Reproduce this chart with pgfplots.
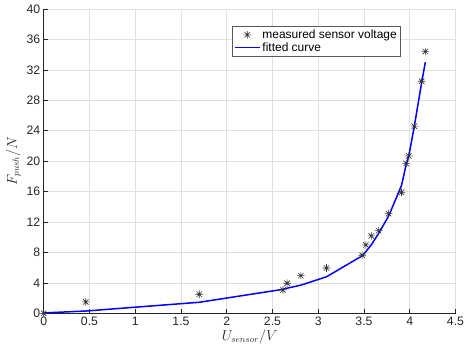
\documentclass[border=0pt]{standalone}
\usepackage{pgfplots}
\pgfplotsset{compat=1.18}
\usepackage{fontspec}
\setmainfont{Liberation Sans}
\definecolor{axgray}{gray}{0.15}
\definecolor{gridgray}{gray}{0.88}
\definecolor{legbox}{gray}{0.35}
\pgfdeclareplotmark{mstar}{%
  \pgfpathmoveto{\pgfqpoint{-\pgfplotmarksize}{0pt}}\pgfpathlineto{\pgfqpoint{\pgfplotmarksize}{0pt}}%
  \pgfpathmoveto{\pgfqpoint{0pt}{-\pgfplotmarksize}}\pgfpathlineto{\pgfqpoint{0pt}{\pgfplotmarksize}}%
  \pgfpathmoveto{\pgfqpoint{-0.7071\pgfplotmarksize}{-0.7071\pgfplotmarksize}}\pgfpathlineto{\pgfqpoint{0.7071\pgfplotmarksize}{0.7071\pgfplotmarksize}}%
  \pgfpathmoveto{\pgfqpoint{-0.7071\pgfplotmarksize}{0.7071\pgfplotmarksize}}\pgfpathlineto{\pgfqpoint{0.7071\pgfplotmarksize}{-0.7071\pgfplotmarksize}}%
  \pgfusepathqstroke}
\begin{document}
\begin{tikzpicture}
\begin{axis}[
  scale only axis,
  width=411.8bp, height=304.3bp,
  xmin=0, xmax=4.5, ymin=0, ymax=40,
  xtick={0,0.5,...,4.5}, ytick={0,4,...,40},
  xticklabels={0,0.5,1,1.5,2,2.5,3,3.5,4,4.5},
  axis x line*=bottom, axis y line*=left,
  axis line style={color=axgray, line width=0.5bp, -},
  tick style={color=axgray, line width=0.5bp},
  tick align=inside, major tick length=4bp,
  grid=major,
  major grid style={color=gridgray, line width=0.5bp},
  /pgf/number format/assume math mode=true,
  tick label style={font=\fontsize{12.3}{14}\selectfont, color=axgray},
  xticklabel style={yshift=-0.5bp},
  xlabel={$U_{sensor}/V$},
  ylabel={$F_{push}/N$},
  label style={font=\fontsize{13.5}{15}\selectfont, color=axgray},
  xlabel style={yshift=3bp},
  ylabel style={yshift=-1bp},
  legend cell align=left,
  legend style={at={(0.458,0.944)}, anchor=north west, draw=legbox,
    font=\fontsize{12}{13.5}\selectfont, inner sep=1.5bp, row sep=-1.5bp,
    /tikz/every even column/.append style={column sep=0bp}},
]
\addplot[only marks, mark=mstar, mark size=3.8bp, color=black!80, line width=0.6bp,
  legend image code/.code={\draw[black!80, line width=0.6bp] plot[only marks, mark=mstar, mark size=3.8bp] coordinates {(12.5bp,0bp)}; \path (0bp,0bp) (25bp,0bp);}] coordinates {
  (0,0) (0.46,1.5) (1.70,2.5) (2.615,3.07) (2.66,3.95) (2.81,4.95) (3.09,5.96)
  (3.48,7.63) (3.52,8.99) (3.58,10.17) (3.66,10.87) (3.77,13.1) (3.91,15.9)
  (3.96,19.7) (3.99,20.7) (4.05,24.6) (4.13,30.5) (4.17,34.4)
};
\addlegendentry{measured sensor voltage}
\addplot[color=blue, line width=1.5bp, no marks,
  legend image code/.code={\draw[blue, line width=1.5bp] (0bp,0bp) -- (25bp,0bp);}] coordinates {
  (0,0.05) (0.46,0.3) (1.70,1.45) (2.615,3.15) (2.66,3.3) (2.81,3.7) (3.09,4.8)
  (3.48,7.55) (3.52,8.1) (3.58,9.0) (3.66,10.5) (3.77,12.8) (3.91,16.8)
  (3.96,19.5) (3.99,20.7) (4.05,24.6) (4.13,30.3) (4.17,33.0)
};
\addlegendentry{fitted curve}
\end{axis}
\pgfresetboundingbox
\useasboundingbox (-43.7bp,-41.7bp) rectangle (420.3bp,313.3bp);
\end{tikzpicture}
\end{document}
